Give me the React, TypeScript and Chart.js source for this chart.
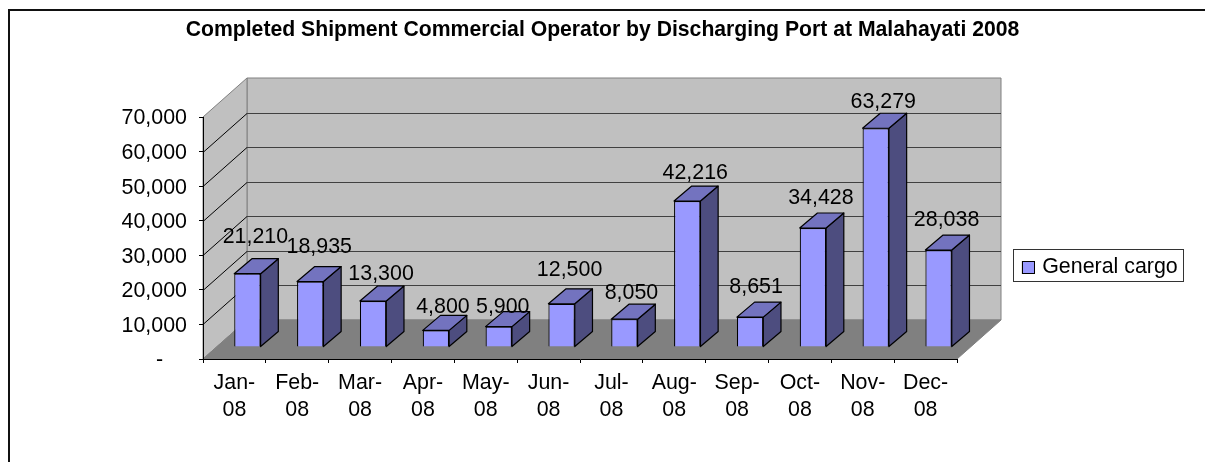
import React, { useEffect, useRef } from "react";
import { Chart, registerables } from "chart.js";

Chart.register(...registerables);

const TITLE = "Completed Shipment Commercial Operator by Discharging Port at Malahayati 2008";
const SERIES_NAME = "General cargo";
const categories = [
  ["Jan-", "08"], ["Feb-", "08"], ["Mar-", "08"], ["Apr-", "08"], ["May-", "08"], ["Jun-", "08"],
  ["Jul-", "08"], ["Aug-", "08"], ["Sep-", "08"], ["Oct-", "08"], ["Nov-", "08"], ["Dec-", "08"],
];
const generalCargo = [21210, 18935, 13300, 4800, 5900, 12500, 8050, 42216, 8651, 34428, 63279, 28038];

// Hand-placed label offsets of the original, relative to each bar's top centre
const labelDx = [8, 9, 8, 7, 4, 8, 7, 8, 6, 8, 7.5, 8];
const labelDy = [-37.7, -35, -27.7, -24.3, -20.7, -34.4, -27.3, -29.3, -30.6, -31, -27.3, -31.3];

const FONT = "'Liberation Sans', Arial, sans-serif";
const SIZE = 21.4;
const WALL = "#C0C0C0";
const FLOOR = "#808080";
const FRONT = "#9999FF";
const TOP = "#7373BF";
const SIDE = "#4D4D7F";
const WALL_DX = 44, WALL_DY = 39;
const BAR_DX = 13, BAR_DY = 12;
const FACE_DX = 17.7, FACE_DY = 15;

function poly(ctx: CanvasRenderingContext2D, pts: number[][], fill: string, stroke: string, lw = 1) {
  ctx.beginPath();
  pts.forEach((p, i) => (i ? ctx.lineTo(p[0], p[1]) : ctx.moveTo(p[0], p[1])));
  ctx.closePath();
  ctx.fillStyle = fill;
  ctx.fill();
  if (stroke) {
    ctx.strokeStyle = stroke;
    ctx.lineWidth = lw;
    ctx.lineJoin = "round";
    ctx.stroke();
  }
}

const box3d = {
  id: "box3d",
  afterLayout(chart: any) {
    Object.assign(chart.legend, { left: 1013.5, top: 251.5, right: 1183.5, bottom: 283.5, width: 170, height: 32 });
    Object.assign(chart.titleBlock, { left: 0, right: chart.width, width: chart.width });
  },
  beforeDraw(chart: any) {
    const { ctx, chartArea: a, scales } = chart;
    ctx.save();
    ctx.fillStyle = "#fff";
    ctx.fillRect(0, 0, chart.width, chart.height);
    // outer frame: only the top and left edges fall inside the picture
    ctx.fillStyle = "#111";
    ctx.fillRect(8, 9, chart.width - 8, 2);
    ctx.fillRect(8, 9, 2, chart.height - 9);
    // back wall, side wall and floor
    const l = a.left, r = a.right, t = a.top, b = a.bottom;
    poly(ctx, [[l + WALL_DX, t - WALL_DY], [r + WALL_DX, t - WALL_DY], [r + WALL_DX, b - WALL_DY], [l + WALL_DX, b - WALL_DY]], WALL, FLOOR);
    poly(ctx, [[l, t], [l + WALL_DX, t - WALL_DY], [l + WALL_DX, b - WALL_DY], [l, b]], WALL, FLOOR);
    // gridlines
    scales.y.ticks.forEach((tk: any) => {
      if (tk.value === 0 || tk.value === 70000) return;
      const y = Math.round(scales.y.getPixelForValue(tk.value)) + 0.5;
      ctx.strokeStyle = "#404040";
      ctx.lineWidth = 1;
      ctx.beginPath();
      ctx.moveTo(l + WALL_DX, y - WALL_DY);
      ctx.lineTo(r + WALL_DX, y - WALL_DY);
      ctx.stroke();
      ctx.strokeStyle = "#000";
      ctx.beginPath();
      ctx.moveTo(l, y);
      ctx.lineTo(l + WALL_DX, y - WALL_DY);
      ctx.stroke();
    });
    poly(ctx, [[l, b], [r, b], [r + WALL_DX, b - WALL_DY], [l + WALL_DX, b - WALL_DY]], FLOOR, FLOOR);
    ctx.restore();
  },
  beforeDatasetsDraw(chart: any) {
    const { ctx } = chart;
    ctx.save();
    ctx.translate(BAR_DX, -BAR_DY);
    chart.getDatasetMeta(0).data.forEach((el: any) => {
      const p = el.getProps(["x", "y", "base", "width"]);
      const x0 = p.x - p.width / 2, x1 = p.x + p.width / 2;
      poly(ctx, [[x1, p.y], [x1 + FACE_DX, p.y - FACE_DY], [x1 + FACE_DX, p.base - FACE_DY], [x1, p.base]], SIDE, "#000", 1.2);
      poly(ctx, [[x0, p.y], [x0 + FACE_DX, p.y - FACE_DY], [x1 + FACE_DX, p.y - FACE_DY], [x1, p.y]], TOP, "#000", 1.2);
    });
  },
  afterDatasetsDraw(chart: any) {
    const { ctx } = chart;
    ctx.restore();
    ctx.save();
    ctx.fillStyle = "#000";
    ctx.font = `${SIZE}px ${FONT}`;
    ctx.textAlign = "center";
    ctx.textBaseline = "middle";
    chart.getDatasetMeta(0).data.forEach((el: any, i: number) => {
      const txt = generalCargo[i].toLocaleString("en-US");
      ctx.fillText(txt, el.x + BAR_DX + labelDx[i], el.y - BAR_DY + labelDy[i] + 1);
    });
    ctx.restore();
  },
  afterDraw(chart: any) {
    const { ctx, legend } = chart;
    ctx.save();
    ctx.strokeStyle = "#333";
    ctx.lineWidth = 1;
    ctx.strokeRect(legend.left, legend.top - 2, legend.width, legend.height);
    // widen the legend key to the original's square
    ctx.fillStyle = FRONT;
    ctx.fillRect(1022.5, 261.5, 12, 12);
    ctx.strokeStyle = "#000";
    ctx.strokeRect(1022.5, 261.5, 12, 12);
    ctx.restore();
  },
};

export default function App() {
  const ref = useRef<HTMLCanvasElement>(null);
  useEffect(() => {
    document.body.style.margin = "0";
    const chart = new Chart(ref.current as HTMLCanvasElement, {
      type: "bar",
      data: {
        labels: categories,
        datasets: [
          {
            label: SERIES_NAME,
            data: generalCargo,
            backgroundColor: FRONT,
            borderColor: "#000",
            borderWidth: 1.2,
            barPercentage: 0.42,
            categoryPercentage: 1,
            clip: false,
          } as any,
        ],
      },
      options: {
        animation: false,
        responsive: false,
        events: [],
        layout: { padding: { left: 0, top: 0, right: 248, bottom: 0 } },
        plugins: {
          tooltip: { enabled: false },
          title: {
            display: true,
            text: TITLE,
            color: "#000",
            font: { family: FONT, size: 21.2, weight: "bold", lineHeight: 1.2 },
            padding: { top: 17.5, bottom: 74.06 },
          },
          legend: {
            display: true,
            position: "chartArea",
            align: "center",
            labels: {
              boxWidth: 9,
              boxHeight: 12,
              padding: 9,
              color: "#000",
              font: { family: FONT, size: SIZE },
            },
          },
        },
        scales: {
          x: {
            afterFit: (s: any) => { s.height = 103; },
            grid: { drawOnChartArea: false, drawTicks: true, tickLength: 4, color: "#000", offset: true },
            border: { color: "#000", width: 1 },
            ticks: { color: "#000", font: { family: FONT, size: SIZE, lineHeight: 1.26 }, padding: 7, maxRotation: 0, autoSkip: false },
          },
          y: {
            min: 0,
            max: 70000,
            afterFit: (s: any) => { s.width = 203; },
            grid: { drawOnChartArea: false, drawTicks: true, tickLength: 4, color: "#000" },
            border: { color: "#000", width: 1 },
            ticks: {
              stepSize: 10000,
              color: "#000",
              padding: 12,
              labelOffset: 1.5,
              font: { family: FONT, size: SIZE },
              callback: (v: any) => (v === 0 ? "-    " : Number(v).toLocaleString("en-US")),
            },
          },
        },
      } as any,
      plugins: [box3d as any],
    });
    return () => chart.destroy();
  }, []);
  return <canvas ref={ref} width={1205} height={462} style={{ display: "block", width: 1205, height: 462 }} />;
}
